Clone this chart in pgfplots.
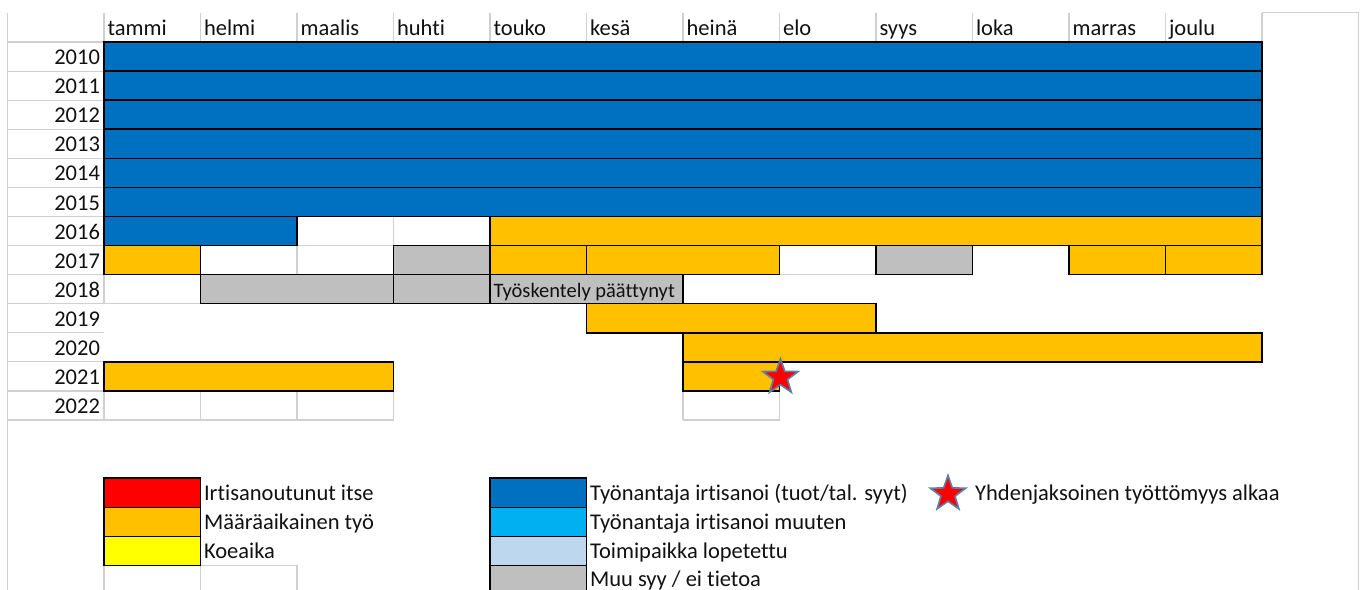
\documentclass[border=0pt]{standalone}
\usepackage{fontspec}
\setmainfont{Carlito}[Ligatures=NoCommon]
\usepackage{pgfplots}
\pgfplotsset{compat=1.18}
\definecolor{xblue}{HTML}{0070C0}
\definecolor{xorange}{HTML}{FFC000}
\definecolor{xgrey}{HTML}{BFBFBF}
\definecolor{xred}{HTML}{FF0000}
\definecolor{xyellow}{HTML}{FFFF00}
\definecolor{xlblue}{HTML}{00B0F0}
\definecolor{xpblue}{HTML}{BDD7EE}
\definecolor{gridgrey}{HTML}{D0D0D0}
\definecolor{starblue}{HTML}{5A7FA8}
\definecolor{txt}{HTML}{111111}
\newcommand\fs{\fontsize{22.5}{26}\selectfont}
\newcommand\fsc{\fontsize{20.5}{24}\selectfont}
\pgfdeclareplotmark{fstar}{%
  \pgfpathmoveto{\pgfpointpolar{90}{\pgfplotmarksize}}%
  \pgfpathlineto{\pgfpointpolar{126}{0.40*\pgfplotmarksize}}%
  \pgfpathlineto{\pgfpointpolar{162}{\pgfplotmarksize}}%
  \pgfpathlineto{\pgfpointpolar{198}{0.40*\pgfplotmarksize}}%
  \pgfpathlineto{\pgfpointpolar{234}{\pgfplotmarksize}}%
  \pgfpathlineto{\pgfpointpolar{270}{0.40*\pgfplotmarksize}}%
  \pgfpathlineto{\pgfpointpolar{306}{\pgfplotmarksize}}%
  \pgfpathlineto{\pgfpointpolar{342}{0.40*\pgfplotmarksize}}%
  \pgfpathlineto{\pgfpointpolar{18}{\pgfplotmarksize}}%
  \pgfpathlineto{\pgfpointpolar{54}{0.40*\pgfplotmarksize}}%
  \pgfpathclose
  \pgfusepathqfillstroke}
\tikzset{cellb/.style={draw=black, line width=1.5pt, line join=miter},
         gridl/.style={draw=gridgrey, line width=1.1pt},
         lab/.style={font=\fs, text=txt, inner sep=0pt}}
\newcommand\cell[5]{\addplot[cellb, fill=#1] coordinates {(#2,#4) (#3,#4) (#3,#5) (#2,#5)} -- cycle;}
\newcommand\gl[4]{\addplot[gridl] coordinates {(#1,#2) (#3,#4)};}
\begin{document}
\begin{tikzpicture}
\begin{axis}[
  width=1365pt, height=590pt, scale only axis,
  xmin=-1.0777, xmax=13.0674, ymin=-1.4443, ymax=18.845, y dir=reverse,
  hide axis, clip=true,
]
\addplot[draw=none] coordinates {(-1.0777,-1.4443) (13.0674,18.845)};
% ---- light grid lines
\gl{-1}{-1}{-1}{18.9}
\gl{13}{-1}{13}{18.9}
\gl{12}{-1}{13}{-1}
\gl{-1}{0}{0}{0}
\gl{0}{-1}{0}{0}\gl{1}{-1}{1}{0}\gl{2}{-1}{2}{0}\gl{3}{-1}{3}{0}\gl{4}{-1}{4}{0}\gl{5}{-1}{5}{0}
\gl{6}{-1}{6}{0}\gl{7}{-1}{7}{0}\gl{8}{-1}{8}{0}\gl{9}{-1}{9}{0}\gl{10}{-1}{10}{0}\gl{11}{-1}{11}{0}\gl{12}{-1}{12}{0}
\gl{-1}{1}{0}{1}\gl{-1}{2}{0}{2}\gl{-1}{3}{0}{3}\gl{-1}{4}{0}{4}\gl{-1}{5}{0}{5}\gl{-1}{6}{0}{6}
\gl{-1}{7}{0}{7}\gl{-1}{8}{0}{8}\gl{-1}{9}{0}{9}\gl{-1}{10}{0}{10}\gl{-1}{11}{0}{11}\gl{-1}{12}{0}{12}
\gl{-1}{13}{3}{13}
\gl{0}{12}{0}{13}\gl{1}{12}{1}{13}\gl{2}{12}{2}{13}\gl{3}{12}{3}{13}
\gl{6}{12}{6}{13}\gl{7}{12}{7}{13}\gl{6}{13}{7}{13}
\gl{3}{6}{3}{7}\gl{2}{7}{3}{7}
\gl{2}{7}{2}{8}\gl{7}{8}{8}{8}
\gl{0}{8}{0}{9}\gl{0}{9}{1}{9}
\gl{0}{18}{2}{18}\gl{0}{18}{0}{19}\gl{1}{18}{1}{19}\gl{2}{18}{2}{19}
% ---- 2010-2015
\cell{xblue}{0}{12}{0}{1}
\cell{xblue}{0}{12}{1}{2}
\cell{xblue}{0}{12}{2}{3}
\cell{xblue}{0}{12}{3}{4}
\cell{xblue}{0}{12}{4}{5}
\cell{xblue}{0}{12}{5}{6}
% ---- 2016
\cell{xblue}{0}{2}{6}{7}
\cell{xorange}{4}{12}{6}{7}
% ---- 2017
\cell{xorange}{0}{1}{7}{8}
\cell{xgrey}{3}{4}{7}{8}
\cell{xorange}{4}{5}{7}{8}
\cell{xorange}{5}{7}{7}{8}
\cell{xgrey}{8}{9}{7}{8}
\cell{xorange}{10}{11}{7}{8}
\cell{xorange}{11}{12}{7}{8}
% ---- 2018
\cell{xgrey}{1}{3}{8}{9}
\cell{xgrey}{3}{4}{8}{9}
\cell{xgrey}{4}{6}{8}{9}
% ---- 2019-2021
\cell{xorange}{5}{8}{9}{10}
\cell{xorange}{6}{12}{10}{11}
\cell{xorange}{0}{3}{11}{12}
\cell{xorange}{6}{7}{11}{12}
% ---- legend swatches
\cell{xred}{0}{1}{15}{16}
\cell{xorange}{0}{1}{16}{17}
\cell{xyellow}{0}{1}{17}{18}
\cell{xblue}{4}{5}{15}{16}
\cell{xlblue}{4}{5}{16}{17}
\cell{xpblue}{4}{5}{17}{18}
\cell{xgrey}{4}{5}{18}{19.5}
% ---- stars
\addplot[only marks, mark=fstar, mark size=18.5pt, mark options={fill=xred, draw=starblue, line width=1.6pt}] coordinates {(7.01,11.53)};
\addplot[only marks, mark=fstar, mark size=18.5pt, mark options={fill=xred, draw=starblue, line width=1.6pt}] coordinates {(8.746,15.54)};
% ---- month labels
\node[lab, anchor=base west] at (axis cs:0.035,-0.24) {tammi};
\node[lab, anchor=base west] at (axis cs:1.035,-0.24) {helmi};
\node[lab, anchor=base west] at (axis cs:2.035,-0.24) {maalis};
\node[lab, anchor=base west] at (axis cs:3.035,-0.24) {huhti};
\node[lab, anchor=base west] at (axis cs:4.035,-0.24) {touko};
\node[lab, anchor=base west] at (axis cs:5.035,-0.24) {kesä};
\node[lab, anchor=base west] at (axis cs:6.035,-0.24) {heinä};
\node[lab, anchor=base west] at (axis cs:7.035,-0.24) {elo};
\node[lab, anchor=base west] at (axis cs:8.035,-0.24) {syys};
\node[lab, anchor=base west] at (axis cs:9.035,-0.24) {loka};
\node[lab, anchor=base west] at (axis cs:10.035,-0.24) {marras};
\node[lab, anchor=base west] at (axis cs:11.035,-0.24) {joulu};
% ---- year labels
\node[lab, anchor=base east] at (axis cs:-0.04,0.78) {2010};
\node[lab, anchor=base east] at (axis cs:-0.04,1.78) {2011};
\node[lab, anchor=base east] at (axis cs:-0.04,2.78) {2012};
\node[lab, anchor=base east] at (axis cs:-0.04,3.78) {2013};
\node[lab, anchor=base east] at (axis cs:-0.04,4.78) {2014};
\node[lab, anchor=base east] at (axis cs:-0.04,5.78) {2015};
\node[lab, anchor=base east] at (axis cs:-0.04,6.78) {2016};
\node[lab, anchor=base east] at (axis cs:-0.04,7.78) {2017};
\node[lab, anchor=base east] at (axis cs:-0.04,8.78) {2018};
\node[lab, anchor=base east] at (axis cs:-0.04,9.78) {2019};
\node[lab, anchor=base east] at (axis cs:-0.04,10.78) {2020};
\node[lab, anchor=base east] at (axis cs:-0.04,11.78) {2021};
\node[lab, anchor=base east] at (axis cs:-0.04,12.78) {2022};
% ---- cell text
\node[lab, font=\fsc, anchor=base west] at (axis cs:4.035,8.77) {Työskentely päättynyt};
% ---- legend text
\node[lab, anchor=base west] at (axis cs:1.035,15.77) {Irtisanoutunut itse};
\node[lab, anchor=base west] at (axis cs:1.035,16.77) {Määräaikainen työ};
\node[lab, anchor=base west] at (axis cs:1.035,17.77) {Koeaika};
\node[lab, anchor=base west] at (axis cs:5.035,15.77) {Työnantaja irtisanoi (tuot/tal. syyt)};
\node[lab, anchor=base west] at (axis cs:5.035,16.77) {Työnantaja irtisanoi muuten};
\node[lab, anchor=base west] at (axis cs:5.035,17.77) {Toimipaikka lopetettu};
\node[lab, anchor=base west] at (axis cs:5.035,18.72) {Muu syy / ei tietoa};
\node[lab, anchor=base west] at (axis cs:9.026,15.77) {Yhdenjaksoinen työttömyys alkaa};
\end{axis}
\end{tikzpicture}
\end{document}
